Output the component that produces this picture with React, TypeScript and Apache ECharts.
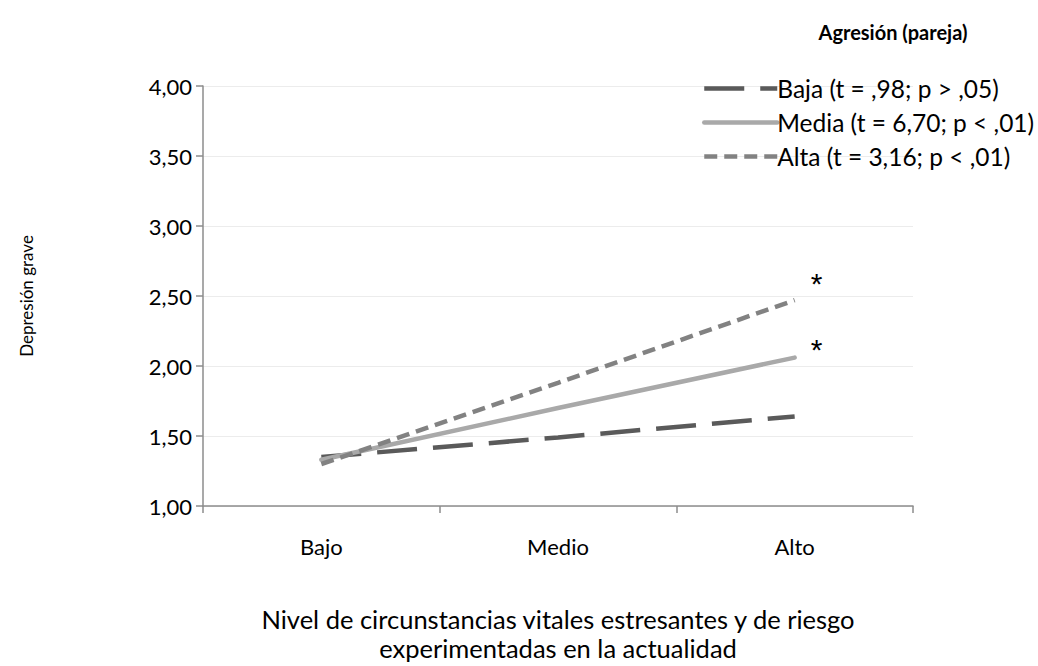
import React, { useEffect, useRef } from "react";
import * as echarts from "echarts";

const categories = ["Bajo", "Medio", "Alto"];
const baja = [1.35, 1.49, 1.64];
const media = [1.33, 1.70, 2.06];
const alta = [1.3, 1.88, 2.47];
const seriesNames = [
  "Baja (t = ,98; p > ,05)",
  "Media (t = 6,70; p < ,01)",
  "Alta (t = 3,16; p < ,01)",
];
const legendTitle = "Agresión (pareja)";
const yAxisName = "Depresión grave";
const xAxisName = "Nivel de circunstancias vitales estresantes y de riesgo\nexperimentadas en la actualidad";
const starMark = "*";

const FONT = "Lato";

export default function App() {
  const ref = useRef<HTMLDivElement>(null);
  useEffect(() => {
    if (!ref.current) return;
    const chart = echarts.init(ref.current, undefined, { renderer: "svg" });
    const starLabel = (dy: number) => ({
      show: true,
      distance: 0,
      offset: [16, dy],
      formatter: starMark,
      color: "#000",
      fontSize: 30,
      fontFamily: "Liberation Sans",
    });
    chart.setOption({
      animation: false,
      backgroundColor: "#fff",
      title: {
        text: legendTitle,
        left: 888,
        top: 17,
        textAlign: "center",
        textStyle: { fontFamily: FONT, fontSize: 20, fontWeight: "bold", color: "#000" },
      },
      legend: {
        orient: "vertical",
        left: 697,
        top: 71,
        itemWidth: 73,
        itemHeight: 14,
        itemGap: 9,
        data: seriesNames,
        itemStyle: { color: "transparent", borderWidth: 0, opacity: 0 },
        lineStyle: { width: 4.5 },
        textStyle: { fontFamily: FONT, fontSize: 24.5, color: "#000", padding: [0, 0, 0, -5] },
      },
      grid: { left: 203, right: 125, top: 86, bottom: 160, outerBoundsMode: "none", containLabel: false },
      xAxis: {
        type: "category",
        data: categories,
        boundaryGap: true,
        axisLine: { lineStyle: { color: "#8c8c8c", width: 1.5 } },
        axisTick: { show: true, length: 7, alignWithLabel: false, lineStyle: { color: "#8c8c8c", width: 1.5 } },
        axisLabel: { margin: 29, fontFamily: FONT, fontSize: 22, color: "#000" },
        name: xAxisName,
        nameLocation: "middle",
        nameGap: 98,
        nameTextStyle: { fontFamily: FONT, fontSize: 25.5, color: "#000", lineHeight: 29 },
      },
      yAxis: {
        type: "value",
        min: 1,
        max: 4,
        interval: 0.5,
        axisLine: { show: true, lineStyle: { color: "#8c8c8c", width: 1.5 } },
        axisTick: { show: true, length: 7, lineStyle: { color: "#8c8c8c", width: 1.5 } },
        splitLine: { lineStyle: { color: "#ececec", width: 1 } },
        axisLabel: {
          margin: 11,
          fontFamily: FONT,
          fontSize: 22,
          color: "#000",
          formatter: (v: number) => v.toFixed(2).replace(".", ","),
        },
        name: yAxisName,
        nameLocation: "middle",
        nameGap: 168,
        nameTextStyle: { fontFamily: FONT, fontSize: 17, color: "#000" },
      },
      series: [
        {
          name: seriesNames[0],
          type: "line",
          data: baja,
          symbol: "none",
          color: "#5a5a5a",
          lineStyle: { color: "#5a5a5a", width: 4.5, type: [40, 16], cap: "butt" },
        },
        {
          name: seriesNames[1],
          type: "line",
          data: media,
          symbol: "none",
          color: "#a9a9a9",
          lineStyle: { color: "#a9a9a9", width: 4.5, type: "solid", cap: "round" },
          endLabel: starLabel(-8),
        },
        {
          name: seriesNames[2],
          type: "line",
          data: alta,
          symbol: "none",
          color: "#828282",
          lineStyle: { color: "#828282", width: 4.5, type: [13, 7], cap: "butt" },
          endLabel: starLabel(-17),
        },
      ],
    });
    return () => chart.dispose();
  }, []);
  return <div ref={ref} style={{ width: 1038, height: 666, position: "absolute", left: 0, top: 0 }} />;
}
